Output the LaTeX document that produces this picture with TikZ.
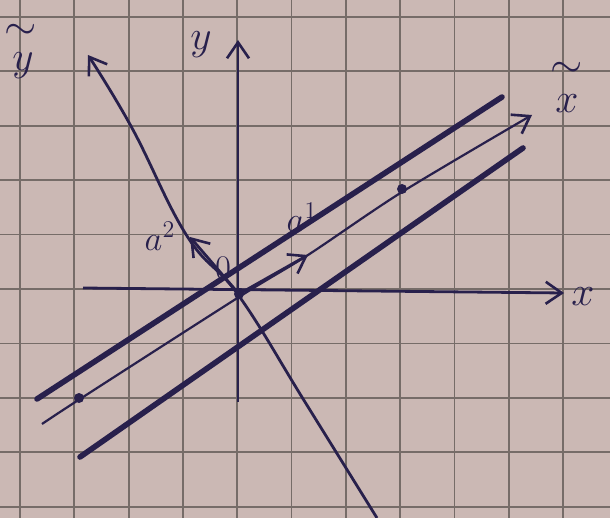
\documentclass[tikz,border=0pt]{standalone}
\usetikzlibrary{arrows.meta}
\definecolor{paper}{RGB}{203,184,180}
\definecolor{gridc}{RGB}{118,108,104}
\definecolor{ink}{RGB}{40,32,76}
\begin{document}
\begin{tikzpicture}[x=0.5pt,y=-0.5pt,
  gridline/.style={gridc,line width=0.9pt},
  barb/.style={-{Straight Barb[length=8pt,width=11pt,line width=1.3pt]}},
  axisline/.style={ink,line width=1.4pt},
  thinline/.style={ink,line width=1.1pt},
  thickline/.style={ink,line width=2.8pt,line cap=round},
  lab/.style={ink,inner sep=0pt,font=\fontsize{22}{26}\selectfont},
  smalllab/.style={ink,inner sep=0pt,font=\fontsize{17}{20}\selectfont},
  dotmark/.style={ink,fill,circle,inner sep=0pt,minimum size=5pt}]
\fill[paper] (0,0) rectangle (610,518);
\useasboundingbox (0,0) rectangle (610,518);
% grid
\foreach \i in {0,...,10} \draw[gridline] ({20+54.3*\i},0) -- ({20+54.3*\i},518);
\foreach \i in {0,...,9} \draw[gridline] (0,{17+54.4*\i}) -- (610,{17+54.4*\i});
% coordinates
\coordinate (O) at (239,294);
\coordinate (xs) at (83,288);
\coordinate (xe) at (564,293);
\coordinate (ys) at (238,402);
\coordinate (ye) at (238,40);
\coordinate (ub1) at (37,399);
\coordinate (ub2) at (502,97);
\coordinate (lb1) at (80,457);
\coordinate (lb2) at (523,148);
\coordinate (a1tip) at (308,255);
\coordinate (a2tip) at (190,237);
% axes x, y
\draw[axisline,barb] (xs) -- (xe);
\draw[axisline,barb] (ys) -- (ye);
% tilde y axis (hand drawn, slightly curved)
\draw[axisline,barb] plot[smooth,tension=0.7] coordinates
  {(377,518) (305,402) (239,296) (187,236) (132,128) (88,55)};
% tilde x axis (thin)
\draw[thinline,barb] plot[smooth,tension=0.5] coordinates
  {(42,424) (80,399) (239,297) (308,255) (402,192) (532,115)};
% parallel thick lines
\draw[thickline] (ub1) -- (ub2);
\draw[thickline] (lb1) -- (lb2);
% basis vectors
\draw[axisline,barb] (O) -- (a1tip);
\draw[axisline,barb] (O) -- (a2tip);
% dots
\node[dotmark] (d0) at (O) {};
\node[dotmark] (d1) at (402,189) {};
\node[dotmark] (d2) at (79,398) {};
% labels
\node[lab] (lx) at (583,297) {$x$};
\node[lab] (ly) at (201,45) {$y$};
\node[lab] (lxtil) at (567,70) {$\sim$};
\node[lab] (lxt) at (567,104) {$x$};
\node[lab] (lytil) at (21,32) {$\sim$};
\node[lab] (lyt) at (23,66) {$y$};
\node[smalllab] (la1) at (302,217) {$a^1$};
\node[smalllab] (la2) at (160,236) {$a^2$};
\node[smalllab] (l0) at (223,268) {$0$};
\end{tikzpicture}
\end{document}
